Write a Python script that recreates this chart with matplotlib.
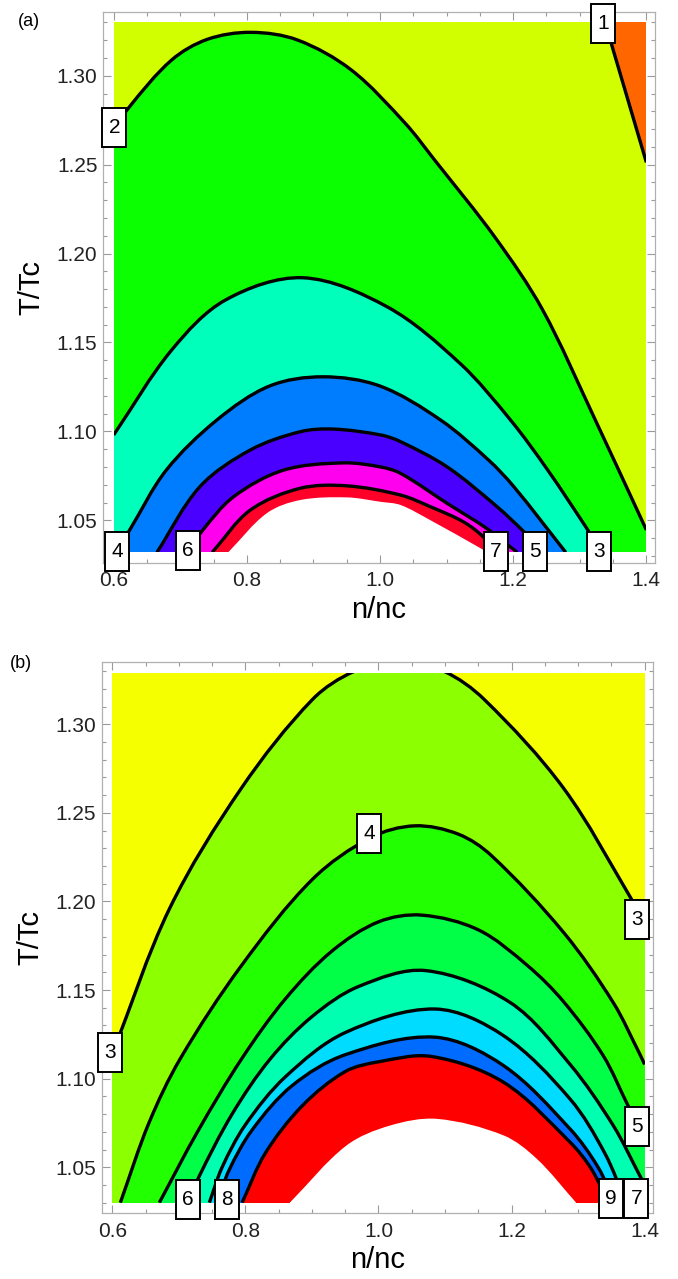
import matplotlib
matplotlib.use("Agg")
import matplotlib.pyplot as plt
import numpy as np
from matplotlib.patches import Rectangle, PathPatch
from matplotlib.path import Path
from matplotlib.ticker import MultipleLocator, FormatStrFormatter

# ---------------- Panel (a) data ----------------
a_n_range = [0.6, 1.4]
a_T_range = [1.032, 1.33]
a_region_colors = ['#d2ff00', '#ff6600', '#0bff00', '#00ffbb', '#007dff', '#4a00ff', '#ff00ee', '#ff0028']

a_c1_n = [1.338, 1.400]
a_c1_T = [1.330, 1.2513]
a_c2_n = [0.600, 0.622, 0.687, 0.741, 0.806, 0.876, 0.957, 1.038, 1.082, 1.173, 1.244, 1.322, 1.400]
a_c2_T = [1.2685, 1.2817, 1.3088, 1.3205, 1.3244, 1.3201, 1.3032, 1.2732, 1.2526, 1.2090, 1.1685, 1.1075, 1.0446]
a_c3_n = [0.600, 0.687, 0.768, 0.884, 1.011, 1.120, 1.196, 1.252, 1.312, 1.333]
a_c3_T = [1.098, 1.1457, 1.1739, 1.1864, 1.170, 1.1383, 1.1064, 1.0782, 1.0446, 1.032]
a_c4_n = [0.604, 0.624, 0.679, 0.755, 0.834, 0.914, 1.000, 1.091, 1.163, 1.201, 1.279]
a_c4_T = [1.032, 1.0445, 1.0782, 1.1064, 1.1255, 1.1307, 1.1255, 1.1064, 1.0839, 1.0689, 1.032]
a_c5_n = [0.665, 0.7295, 0.805, 0.880, 0.930, 1.001, 1.031, 1.101, 1.176, 1.216, 1.246]
a_c5_T = [1.032, 1.0689, 1.0895, 1.0998, 1.1013, 1.098, 1.0942, 1.080, 1.0576, 1.0436, 1.032]
a_c6_n = [0.712, 0.732, 0.780, 0.855, 0.945, 1.001, 1.031, 1.101, 1.160, 1.206]
a_c6_T = [1.032, 1.0436, 1.0632, 1.0782, 1.0823, 1.080, 1.0764, 1.0595, 1.0455, 1.032]
a_c7_n = [0.748, 0.805, 0.880, 0.950, 1.031, 1.076, 1.126, 1.157, 1.172]
a_c7_T = [1.032, 1.0557, 1.068, 1.0694, 1.0642, 1.0576, 1.049, 1.040, 1.032]
a_white_n = [0.772, 0.830, 0.880, 0.950, 1.001, 1.031, 1.076, 1.151, 1.161]
a_white_T = [1.032, 1.054, 1.0614, 1.0629, 1.0604, 1.0586, 1.050, 1.0343, 1.032]

a_labels = ['1', '2', '4', '6', '7', '5', '3']
a_label_n = [1.335, 0.601, 0.605, 0.712, 1.174, 1.233, 1.329]
a_label_T = [1.3292, 1.2709, 1.0327, 1.0333, 1.0327, 1.0327, 1.0327]

# ---------------- Panel (b) data ----------------
b_n_range = [0.6, 1.4]
b_T_range = [1.030, 1.329]
b_region_colors = ['#f5ff00', '#8cff00', '#22ff00', '#00ff46', '#00ffb0', '#00dcff', '#006cff', '#ff0000']

b_c3_n = [0.600, 0.686, 0.794, 0.901, 0.964, 1.031, 1.098, 1.159, 1.278, 1.380, 1.400]
b_c3_T = [1.114, 1.196, 1.264, 1.3141, 1.330, 1.3358, 1.330, 1.314, 1.264, 1.2014, 1.187]
b_c4_n = [0.612, 0.655, 0.702, 0.794, 0.901, 0.988, 1.0545, 1.120, 1.170, 1.278, 1.3527, 1.3925, 1.400]
b_c4_T = [1.030, 1.075, 1.1112, 1.1638, 1.2126, 1.236, 1.2427, 1.238, 1.2258, 1.1826, 1.143, 1.114, 1.108]
b_c5_n = [0.6706, 0.728, 0.794, 0.860, 0.930, 1.000, 1.065, 1.150, 1.224, 1.278, 1.3377, 1.375, 1.400]
b_c5_T = [1.030, 1.070, 1.111, 1.145, 1.172, 1.1885, 1.1923, 1.184, 1.1638, 1.1435, 1.113, 1.0848, 1.0666]
b_c6_n = [0.715, 0.729, 0.780, 0.837, 0.900, 0.970, 1.0706, 1.1978, 1.288, 1.3527, 1.3925, 1.400]
b_c6_T = [1.030, 1.0437, 1.080, 1.111, 1.135, 1.152, 1.161, 1.143, 1.108, 1.0736, 1.0454, 1.040]
b_c7_n = [0.7458, 0.765, 0.800, 0.860, 0.950, 1.085, 1.1878, 1.2877, 1.340, 1.372]
b_c7_T = [1.030, 1.050, 1.074, 1.101, 1.126, 1.1393, 1.1243, 1.0886, 1.058, 1.030]
b_c8_n = [0.758, 0.775, 0.810, 0.870, 0.950, 1.085, 1.1878, 1.2877, 1.330, 1.355]
b_c8_T = [1.030, 1.048, 1.071, 1.096, 1.1135, 1.1234, 1.1074, 1.0717, 1.050, 1.030]
b_c9_n = [0.795, 0.830, 0.886, 0.950, 1.000, 1.080, 1.1878, 1.2877, 1.320, 1.345]
b_c9_T = [1.030, 1.058, 1.0849, 1.104, 1.1095, 1.1125, 1.098, 1.0642, 1.049, 1.030]
b_white_n = [0.8667, 0.9516, 1.017, 1.088, 1.1878, 1.2378, 1.297]
b_white_T = [1.030, 1.0622, 1.0735, 1.0773, 1.068, 1.0548, 1.030]

b_labels = ['3', '3', '4', '5', '6', '8', '9', '7']
b_label_n = [0.597, 1.389, 0.986, 1.389, 0.714, 0.7726, 1.3497, 1.3876]
b_label_T = [1.115, 1.190, 1.2384, 1.0728, 1.0317, 1.0317, 1.0326, 1.0326]

FONT = ['Liberation Sans', 'DejaVu Sans']
plt.rcParams['font.family'] = FONT

fig = plt.figure(figsize=(6.78, 12.79), dpi=100)
W, H = 678.0, 1279.0
ax_a = fig.add_axes([103 / W, 1 - 563 / H, (655 - 103) / W, (563 - 11.7) / H])
ax_b = fig.add_axes([101.7 / W, 1 - 1213.3 / H, (653.3 - 101.7) / W, (1213.3 - 662.3) / H])

SX, SY = 665.0, 1778.0  # display scale used only to shape the smooth Bezier path


def smooth_verts(n, T):
    """Bezier vertices/codes passing smoothly through the read points."""
    P = np.column_stack([n, T]).astype(float)
    Q = P * [SX, SY]
    m = len(P)
    d = np.r_[0, np.cumsum(np.hypot(*np.diff(Q, axis=0).T))]
    tang = np.zeros_like(P)
    for i in range(m):
        i0, i1 = max(i - 1, 0), min(i + 1, m - 1)
        tang[i] = (P[i1] - P[i0]) / (d[i1] - d[i0])
    verts = [P[0]]
    codes = [Path.MOVETO]
    for i in range(m - 1):
        h = d[i + 1] - d[i]
        verts += [P[i] + tang[i] * h / 3, P[i + 1] - tang[i + 1] * h / 3, P[i + 1]]
        codes += [Path.CURVE4] * 3
    return verts, codes


def tall_box(x0, y0, width, height, mutation_size):
    padx, pady = 0.30 * mutation_size, 0.48 * mutation_size
    x0, y0 = x0 - padx, y0 - pady
    x1, y1 = x0 + width + 2 * padx, y0 + height + 2 * pady
    return Path([(x0, y0), (x1, y0), (x1, y1), (x0, y1), (x0, y0)],
                [Path.MOVETO, Path.LINETO, Path.LINETO, Path.LINETO, Path.CLOSEPOLY])


def draw_panel(ax, nr, Tr, colors, top_poly, arches, white, lines, labels, label_n, label_T):
    clip = Rectangle((nr[0], Tr[0]), nr[1] - nr[0], Tr[1] - Tr[0], transform=ax.transData)
    ax.add_patch(Rectangle((nr[0], Tr[0]), nr[1] - nr[0], Tr[1] - Tr[0],
                           facecolor=colors[0], edgecolor='none', zorder=1))
    low = Tr[0] - 0.02
    k = 1
    if top_poly is not None:
        v, c = smooth_verts(*top_poly)
        v = v + [(nr[1] + 0.02, top_poly[1][-1]), (nr[1] + 0.02, Tr[1] + 0.02),
                 (top_poly[0][0], Tr[1] + 0.02), v[0]]
        c = c + [Path.LINETO] * 3 + [Path.CLOSEPOLY]
        p = PathPatch(Path(v, c), facecolor=colors[k], edgecolor='none', zorder=1.5)
        ax.add_patch(p)
        p.set_clip_path(clip)
        k += 1
    fills = [(a, colors[k + i]) for i, a in enumerate(arches)] + [(white, 'white')]
    for i, ((n, T), col) in enumerate(fills):
        v, c = smooth_verts(n, T)
        v = v + [(n[-1] + (0.02 if n[-1] >= nr[1] else 0), low),
                 (n[0] - (0.02 if n[0] <= nr[0] else 0), low), v[0]]
        c = c + [Path.LINETO] * 2 + [Path.CLOSEPOLY]
        p = PathPatch(Path(v, c), facecolor=col, edgecolor='none', zorder=2 + i * 0.01)
        ax.add_patch(p)
        p.set_clip_path(clip)
    for n, T in lines:
        v, c = smooth_verts(n, T)
        p = PathPatch(Path(v, c), facecolor='none', edgecolor='black', lw=2.4, zorder=3,
                      capstyle='butt', joinstyle='round')
        ax.add_patch(p)
        p.set_clip_path(clip)
    for s, x, y in zip(labels, label_n, label_T):
        ax.text(x, y, s, ha='center', va='center', fontsize=15, color='black', zorder=6,
                clip_on=False,
                bbox=dict(boxstyle=tall_box, facecolor='white', edgecolor='black', lw=1.4))


a_arches = [(a_c2_n, a_c2_T), (a_c3_n, a_c3_T), (a_c4_n, a_c4_T), (a_c5_n, a_c5_T),
            (a_c6_n, a_c6_T), (a_c7_n, a_c7_T)]
draw_panel(ax_a, a_n_range, a_T_range, a_region_colors, (a_c1_n, a_c1_T), a_arches,
           (a_white_n, a_white_T), [(a_c1_n, a_c1_T)] + a_arches, a_labels, a_label_n, a_label_T)

b_arches = [(b_c3_n, b_c3_T), (b_c4_n, b_c4_T), (b_c5_n, b_c5_T), (b_c6_n, b_c6_T),
            (b_c7_n, b_c7_T), (b_c8_n, b_c8_T), (b_c9_n, b_c9_T)]
draw_panel(ax_b, b_n_range, b_T_range, b_region_colors, None, b_arches,
           (b_white_n, b_white_T), b_arches, b_labels, b_label_n, b_label_T)

for ax, ylim in ((ax_a, (1.026, 1.336)), (ax_b, (1.024, 1.335))):
    ax.set_xlim(0.584, 1.413)
    ax.set_ylim(*ylim)
    ax.xaxis.set_major_locator(MultipleLocator(0.2))
    ax.xaxis.set_minor_locator(MultipleLocator(0.05))
    ax.yaxis.set_major_locator(MultipleLocator(0.05))
    ax.yaxis.set_minor_locator(MultipleLocator(0.01))
    ax.xaxis.set_major_formatter(FormatStrFormatter('%.1f'))
    ax.yaxis.set_major_formatter(FormatStrFormatter('%.2f'))
    ax.tick_params(which='both', direction='in', top=True, right=True, color='#9a9a9a',
                   width=0.8, labelsize=15, labelcolor='#222222')
    ax.tick_params(which='major', length=5.5)
    ax.tick_params(which='minor', length=3)
    ax.tick_params(axis='x', pad=6)
    ax.tick_params(axis='y', pad=4)
    for sp in ax.spines.values():
        sp.set_color('#b0b0b0')
        sp.set_linewidth(0.9)
    ax.set_xlabel('n/nc', fontsize=21, labelpad=4)
    ax.set_ylabel('T/Tc', fontsize=21, labelpad=8)
    ax.set_facecolor('white')

fig.text(29 / W, 1 - 22 / H, '(a)', fontsize=13, ha='center', va='center')
fig.text(20.5 / W, 1 - 663 / H, '(b)', fontsize=13, ha='center', va='center')

fig.savefig('out.png', dpi=100)
